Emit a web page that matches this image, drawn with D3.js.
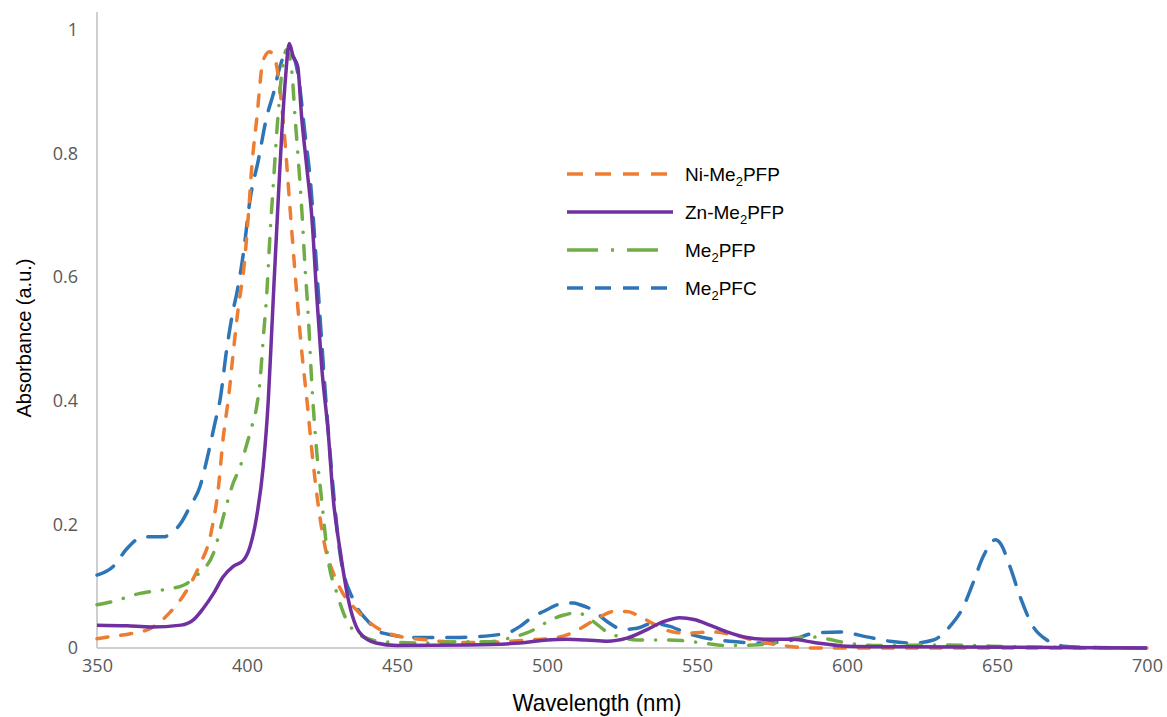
<!DOCTYPE html>
<html>
<head>
<meta charset="utf-8">
<script src="https://cdn.jsdelivr.net/npm/d3@7"></script>
<style>
body { margin: 0; background: #fff; }
.tick-label { font-family: "Open Sans", sans-serif; font-size: 18px; fill: #595959; }
.axis-title { font-family: "Liberation Sans", Arial, sans-serif; font-size: 20px; fill: #000; }
.x-title { font-family: "Liberation Sans Narrow", "Liberation Sans", Arial, sans-serif; font-size: 24px; fill: #000; }
.legend-text { font-family: "Liberation Sans", Arial, sans-serif; font-size: 19px; fill: #000; }
</style>
</head>
<body>
<div id="chart"></div>
<script>
// data (wavelength nm, absorbance a.u.)
var niWl  = [350,354,362,368,374,380,384,388,390.5,392,394,395.5,397,399,400.5,401.6,403.2,405.4,407.5,409.5,411,412.7,414.3,416.3,418.2,420,421.6,423.8,426,428.8,432,436.6,442,449,460,467,474,485,494,502,509,513,518,522,526.5,531,535.5,542,547,555,563,571,580,590,620,700];
var niAbs = [0.015,0.018,0.024,0.032,0.056,0.094,0.132,0.186,0.261,0.337,0.412,0.482,0.547,0.617,0.703,0.779,0.854,0.951,0.965,0.95,0.903,0.817,0.714,0.59,0.482,0.40,0.32,0.229,0.164,0.121,0.088,0.061,0.037,0.021,0.013,0.010,0.009,0.010,0.013,0.016,0.026,0.037,0.051,0.059,0.059,0.051,0.039,0.026,0.024,0.026,0.02,0.01,0.003,0.0,0.0,0.0];

var znWl  = [350,360,368,378,382,385.4,388.8,392,395.4,398.8,401,403.2,405.4,407.1,408.2,409,410.4,411.6,412.7,414.1,415.4,416.9,418.2,419.9,421.6,423.2,424.9,427.1,428.8,431,433.8,437.7,443,450,474,491,500,506.5,513,520,526.6,533,539,544.3,549,554.3,560,566.6,574,582,589,600,620,700];
var znAbs = [0.037,0.036,0.034,0.037,0.045,0.064,0.088,0.115,0.132,0.142,0.164,0.212,0.293,0.401,0.509,0.59,0.725,0.833,0.914,0.978,0.957,0.941,0.86,0.779,0.698,0.574,0.455,0.347,0.239,0.159,0.078,0.024,0.008,0.004,0.005,0.008,0.013,0.014,0.013,0.011,0.016,0.029,0.043,0.049,0.046,0.037,0.026,0.017,0.014,0.014,0.009,0.003,0.002,0.0];

var pfpWl  = [350,355,364,373,379,384,388.8,392.7,395.4,397.7,400,401.6,403.2,404.3,405.4,406.6,407.7,408.8,409.9,411.6,413.2,414.9,416,417.1,418.2,419.3,420.4,421.6,423.2,424.9,427.1,430,433.2,438.8,445.4,460,470,480,489,493,496.6,501,505.4,510,515.4,520,524.3,530,538,545,552,560,569,578,582,588,594,600,611,633,648,670,700];
var pfpAbs = [0.07,0.075,0.088,0.095,0.102,0.121,0.153,0.223,0.267,0.293,0.331,0.358,0.39,0.43,0.5,0.574,0.671,0.752,0.833,0.93,0.968,0.935,0.86,0.79,0.714,0.62,0.54,0.428,0.32,0.239,0.142,0.088,0.045,0.018,0.01,0.008,0.01,0.01,0.018,0.024,0.032,0.045,0.053,0.057,0.043,0.026,0.018,0.013,0.013,0.012,0.008,0.004,0.005,0.01,0.016,0.018,0.014,0.008,0.004,0.005,0.003,0.001,0.0];

var pfcWl  = [350,355.4,360,364.3,368,372,375.4,378.2,381,384.3,387.1,389.3,391,393.2,395.4,396.6,398.8,401,403.8,406.6,408.8,411,413,415.4,417.1,419.3,421,423.8,426,428.5,431,435.4,440,445.4,456.6,469,475,486.6,491,495.4,498.8,504.3,508.8,511,515.4,520,525.4,530,535.4,541,546.6,552,563,571,581,589,597.7,606.6,614.3,622,628.8,634.3,638.8,642,645.4,649.5,651,654.3,657.7,662,666.6,672,680,700];
var pfcAbs = [0.118,0.132,0.161,0.178,0.18,0.18,0.188,0.204,0.229,0.261,0.315,0.364,0.401,0.482,0.547,0.574,0.639,0.725,0.79,0.86,0.897,0.941,0.962,0.957,0.925,0.833,0.763,0.574,0.42,0.27,0.153,0.078,0.045,0.024,0.017,0.017,0.018,0.024,0.035,0.051,0.059,0.071,0.073,0.07,0.061,0.043,0.03,0.032,0.04,0.035,0.024,0.017,0.01,0.008,0.012,0.024,0.026,0.018,0.011,0.008,0.013,0.035,0.067,0.105,0.148,0.175,0.17,0.132,0.083,0.035,0.013,0.003,0.001,0.0];

var xTicks = [350,400,450,500,550,600,650,700];
var yTicks = [0,0.2,0.4,0.6,0.8,1];

var seriesNames = ["Ni-Me|2|PFP","Zn-Me|2|PFP","Me|2|PFP","Me|2|PFC"];

var svgWidth = 1167,
svgHeight = 717;

var svg = d3.select('#chart')
	.append('svg')
	.attr('width', svgWidth)
	.attr('height', svgHeight);

var xScale = d3.scaleLinear().domain([350,700]).range([97,1147]);
var yScale = d3.scaleLinear().domain([0,1]).range([648,30]);

// axes lines
svg.append('line')
	.attr('x1', xScale(350)).attr('x2', xScale(350))
	.attr('y1', 12).attr('y2', yScale(0))
	.attr('stroke', '#bfbfbf').attr('stroke-width', 1.5);
svg.append('line')
	.attr('x1', xScale(350)).attr('x2', xScale(700))
	.attr('y1', yScale(0)).attr('y2', yScale(0))
	.attr('stroke', '#bfbfbf').attr('stroke-width', 1.5);

var xAxis = d3.axisBottom(xScale).tickValues(xTicks).tickSize(0).tickPadding(11).tickFormat(d3.format('d'));
var yAxis = d3.axisLeft(yScale).tickValues(yTicks).tickSize(0).tickPadding(19).tickFormat(d => d === 0 || d === 1 ? d : d.toFixed(1));

var gx = svg.append('g').attr('transform', `translate(0,${yScale(0)})`).call(xAxis);
var gy = svg.append('g').attr('transform', `translate(${xScale(350)},0)`).call(yAxis);
[gx, gy].forEach(g => {
	g.select('.domain').remove();
	g.selectAll('text').attr('class', 'tick-label').attr('font-family', null).attr('font-size', null).attr('fill', null);
});

svg.append('text')
	.attr('class', 'x-title')
	.attr('x', 597).attr('y', 711)
	.attr('text-anchor', 'middle')
	.attr('textLength', 169)
	.attr('lengthAdjust', 'spacingAndGlyphs')
	.text('Wavelength  (nm)');

svg.append('text')
	.attr('class', 'axis-title')
	.attr('transform', 'translate(31,338)rotate(-90)')
	.attr('text-anchor', 'middle')
	.text('Absorbance (a.u.)');

// series
var series = [
	{wl: niWl, ab: niAbs, color: '#ED7D31', dash: '11,13'},
	{wl: znWl, ab: znAbs, color: '#7030A0', dash: null},
	{wl: pfpWl, ab: pfpAbs, color: '#70AD47', dash: '14,13,0.1,13'},
	{wl: pfcWl, ab: pfcAbs, color: '#2E75B6', dash: '19,14'}
];

var line = d3.line()
	.x(d => xScale(d[0]))
	.y(d => yScale(d[1]))
	.curve(d3.curveMonotoneX);

// draw order: blue, orange, green, purple on top
[3,0,2,1].forEach(i => {
	var s = series[i];
	svg.append('path')
		.datum(s.wl.map((w, j) => [w, s.ab[j]]))
		.attr('d', line)
		.attr('fill', 'none')
		.attr('stroke', s.color)
		.attr('stroke-width', 3.5)
		.attr('stroke-linecap', s.dash ? 'round' : 'butt')
		.attr('stroke-dasharray', s.dash);
});

// legend
var legendY = [174, 212, 250, 288];
var legend = svg.append('g');
series.forEach((s, i) => {
	legend.append('line')
		.attr('x1', 567).attr('x2', i === 1 ? 673 : 667)
		.attr('y1', legendY[i]).attr('y2', legendY[i])
		.attr('stroke', s.color)
		.attr('stroke-width', 3.5)
		.attr('stroke-dasharray', i === 1 ? null : (i === 2 ? '31,13,3,13' : '16,12'));
	var parts = seriesNames[i].split('|');
	var t = legend.append('text')
		.attr('class', 'legend-text')
		.attr('x', 685).attr('y', legendY[i] + 7);
	t.append('tspan').text(parts[0]);
	t.append('tspan').attr('font-size', '13px').attr('dy', 5).text(parts[1]);
	t.append('tspan').attr('dy', -5).text(parts[2]);
});
</script>
</body>
</html>
